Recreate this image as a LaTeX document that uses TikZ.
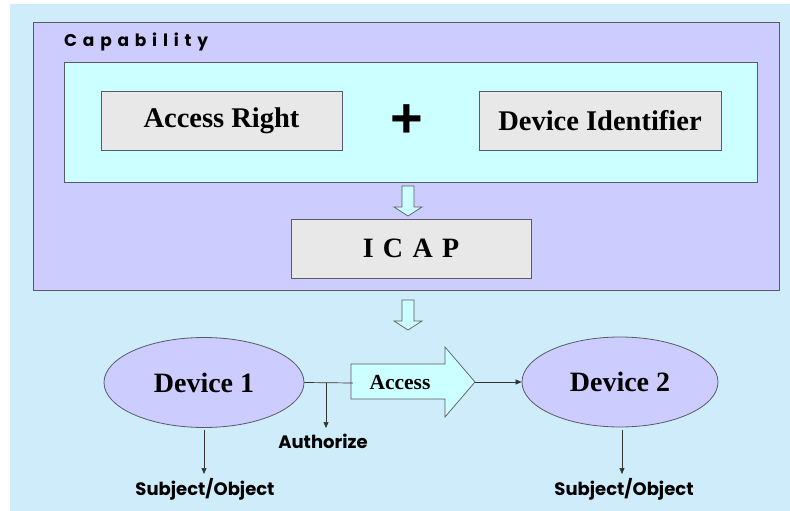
\documentclass[tikz,border=0pt]{standalone}
\usepackage{fontspec}
\setmainfont{Liberation Serif}
\newfontfamily\gothic{Poppins}
\newfontfamily\gothicsp[LetterSpace=34]{Poppins}
\newfontfamily\arialb{Liberation Sans}
\usetikzlibrary{arrows.meta,shapes.geometric}
\definecolor{bgblue}{RGB}{206,236,250}
\definecolor{purp}{RGB}{204,204,255}
\definecolor{cyanl}{RGB}{204,255,255}
\definecolor{grayb}{RGB}{232,232,232}
\definecolor{edge}{RGB}{90,90,100}
\tikzset{
  graybox/.style={draw=edge, fill=grayb, line width=0.8pt, inner sep=0pt},
  dev/.style={ellipse, draw=edge, fill=purp, line width=0.8pt, minimum width=200pt, minimum height=90pt, font=\bfseries\fontsize{28}{30}\selectfont},
  lbl/.style={font=\gothic\bfseries\fontsize{18}{20}\selectfont, inner sep=0pt},
  conn/.style={draw=black!80, line width=0.7pt},
  arr/.style={conn, -{Triangle[length=6pt,width=5pt]}},
  blockarr/.style={draw=edge, fill=cyanl, line width=0.7pt}
}
\begin{document}
\begin{tikzpicture}[x=1pt,y=-1pt]
\useasboundingbox (0,0) rectangle (790,511);
\fill[white] (0,0) rectangle (790,511);
\fill[bgblue] (10,4) rectangle (790,511);
% outer capability box
\draw[edge, fill=purp, line width=0.8pt] (33,22) rectangle (779,290);
\node[anchor=west, inner sep=0pt, font=\gothicsp\bfseries\fontsize{17}{19}\selectfont] (cap) at (64,42) {Capability};
\draw[edge, fill=cyanl, line width=0.8pt] (64,62) rectangle (757,182);
\node[graybox, minimum width=241pt, minimum height=59pt, font=\bfseries\fontsize{28.5}{30}\selectfont] (ar) at (221.5,120.5) {Access Right};
\node[inner sep=0pt, font=\arialb\bfseries\fontsize{56}{56}\selectfont] (plus) at (407,121) {+};
\node[graybox, minimum width=242pt, minimum height=59pt, font=\bfseries\fontsize{28.5}{30}\selectfont] (di) at (600,120.5) {Device Identifier};
% arrow 1
\draw[blockarr] (402,186) -- (414,186) -- (414,207) -- (422,207) -- (408,216) -- (394,207) -- (402,207) -- cycle;
\node[graybox, minimum width=240pt, minimum height=59pt, font=\bfseries\fontsize{28}{30}\selectfont] (icap) at (411,248.5) {I\,\,C\,\,A\,\,P};
% arrow 2
\draw[blockarr] (402,300) -- (414,300) -- (414,321) -- (422,321) -- (408,330) -- (394,321) -- (402,321) -- cycle;
% devices
\node[dev] (d1) at (204,382.5) {Device 1};
\node[dev, minimum width=196pt] (d2) at (620,382) {Device 2};
% access arrow
\draw[blockarr] (351,364) -- (445,364) -- (445,347) -- (475,382) -- (445,417) -- (445,399) -- (351,399) -- cycle;
\node[inner sep=0pt, minimum width=94pt, minimum height=35pt, font=\bfseries\fontsize{21.5}{24}\selectfont] (acc) at (400,383) {Access};
\coordinate (acctip) at (475,382);
\coordinate (br) at (326,382.5);
\draw[conn] (d1.east) -- (acc.west);
\draw[arr] (br) -- (326,428);
\node[lbl] (auth) at (323,441) {Authorize};
\draw[arr] (acctip) -- (d2.west);
% subject/object
\node[lbl] (so1) at (205,489) {Subject/Object};
\node[lbl] (so2) at (624,489) {Subject/Object};
\draw[arr] (d1.south |- 0,430) -- (d1.south |- 0,474);
\draw[arr] (622,430) -- (622,474);
\end{tikzpicture}
\end{document}
